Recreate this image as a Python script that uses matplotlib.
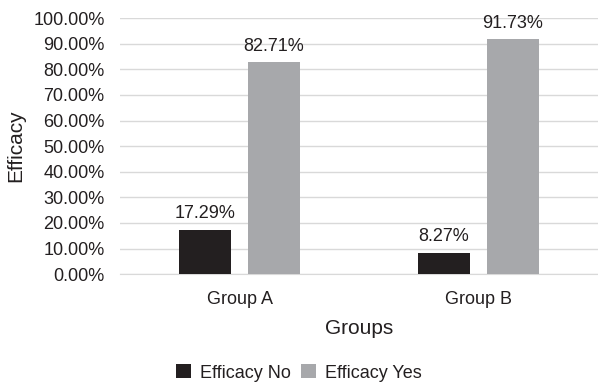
import matplotlib
matplotlib.use("Agg")
import matplotlib.pyplot as plt
import numpy as np
from matplotlib.ticker import PercentFormatter

plt.rcParams['font.family'] = ['Liberation Sans', 'DejaVu Sans']

groups = ["Group A", "Group B"]
efficacy_no = [17.29, 8.27]
efficacy_yes = [82.71, 91.73]
series_names = ["Efficacy No", "Efficacy Yes"]
colors = ["#231f20", "#a7a8ab"]

fig = plt.figure(figsize=(5.98, 3.85), dpi=100)
ax = fig.add_axes([0.2007, 0.288, 0.7993, 0.665])

x = np.arange(len(groups))
w = 0.22
off = 0.144
b1 = ax.bar(x - off, efficacy_no, w, color=colors[0], label=series_names[0], zorder=3)
b2 = ax.bar(x + off, efficacy_yes, w, color=colors[1], label=series_names[1], zorder=3)
for bars, vals in ((b1, efficacy_no), (b2, efficacy_yes)):
    for r, v in zip(bars, vals):
        ax.text(r.get_x() + r.get_width() / 2, v + 3, f"{v:.2f}%", ha='center', va='bottom',
                fontsize=13, color='#231f20')

ax.set_xlim(-0.5, 1.5)
ax.set_ylim(0, 100)
ax.set_yticks(np.arange(0, 101, 10))
ax.yaxis.set_major_formatter(PercentFormatter(decimals=2))
ax.set_xticks(x)
ax.set_xticklabels(groups)
ax.grid(axis='y', color='#d9d9d9', linewidth=1, zorder=0)
for s in ['top', 'right', 'left']:
    ax.spines[s].set_visible(False)
ax.spines['bottom'].set_color('#d9d9d9')
ax.tick_params(axis='both', length=0, labelsize=13, colors='#231f20')
ax.tick_params(axis='y', pad=11)
ax.tick_params(axis='x', pad=12)
ax.set_ylabel("Efficacy", fontsize=15, color='#231f20', labelpad=6)
ax.set_xlabel("Groups", fontsize=15, color='#231f20', labelpad=8)

fig.legend(loc='center', bbox_to_anchor=(0.5, 0.031), ncol=2, frameon=False, fontsize=13,
           handlelength=0.8, handleheight=0.8, handletextpad=0.5, columnspacing=0.6,
           labelcolor='#231f20')

fig.savefig("out.png", dpi=100)
